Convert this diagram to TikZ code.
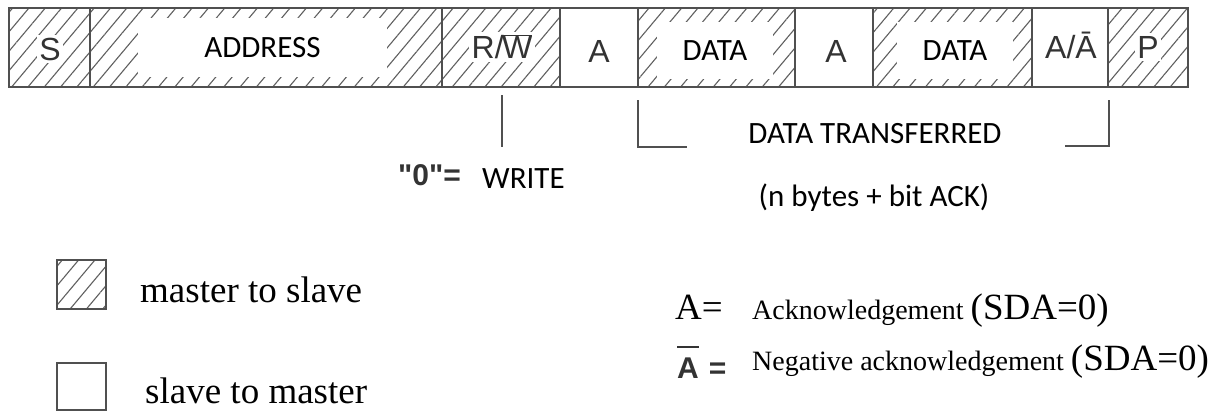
\documentclass[tikz,border=0pt]{standalone}
\usepackage{fontspec}
\setmainfont{Liberation Serif}
\newfontfamily\calibrifont{Carlito}
\newfontfamily\arialfont{Liberation Sans}
\usetikzlibrary{patterns.meta}
\definecolor{ink}{HTML}{333333}
\definecolor{hatchgray}{HTML}{606060}
\definecolor{rulegray}{HTML}{505050}
% A with a heavy bar above it
\newcommand{\barredA}{\leavevmode\vbox{\hrule height 2.6pt\kern 9pt\hbox{A}}}
\begin{document}
\begin{tikzpicture}[x=1pt,y=-1pt,
  cell/.style={draw=rulegray, line width=1.3pt, inner sep=0pt, minimum height=79pt},
  hatched/.style={pattern={Lines[angle=50,distance=12.5pt,line width=1.1pt]},
    pattern color=hatchgray},
  celltext/.style={inner sep=0pt, text=ink, font=\arialfont\fontsize{32}{38}\selectfont},
  clearedtext/.style={celltext, fill=white, inner sep=2.5pt},
  whitebox/.style={fill=white, inner sep=0pt, text=black,
    font=\calibrifont\fontsize{31}{37}\selectfont},
  note/.style={inner sep=0pt, text=black, font=\calibrifont\fontsize{31}{37}\selectfont},
  greytext/.style={inner sep=0pt, text=ink, font=\arialfont\bfseries\fontsize{30}{36}\selectfont},
  serif/.style={inner sep=0pt, text=black, font=\fontsize{37}{44}\selectfont},
  smallserif/.style={inner sep=0pt, text=black, font=\fontsize{28}{34}\selectfont},
  conn/.style={draw=rulegray, line width=1.4pt},
  legendbox/.style={draw=rulegray, line width=1.4pt, inner sep=0pt},
]
\useasboundingbox (0,0) rectangle (1231,412);
\fill[white] (0,0) rectangle (1231,412);

% frame of the transfer
\node[cell, hatched, minimum width=81pt]  (S)     at (49.5,47.5)  {};
\node[cell, hatched, minimum width=352pt] (ADDR)  at (266,47.5)   {};
\node[cell, hatched, minimum width=118pt] (RW)    at (501,47.5)   {};
\node[cell, minimum width=78pt]           (A1)    at (599,47.5)   {};
\node[cell, hatched, minimum width=157pt] (DATA1) at (716.5,47.5) {};
\node[cell, minimum width=78pt]           (A2)    at (834,47.5)   {};
\node[cell, hatched, minimum width=159pt] (DATA2) at (952.5,47.5) {};
\node[cell, minimum width=76pt]           (AN)    at (1070,47.5)  {};
\node[cell, hatched, minimum width=80pt]  (P)     at (1148,47.5)  {};

% cell letters
\node[clearedtext] (stxt)  at (50,49)   {S};
\node[clearedtext] (rwtxt) at (502,47)  {R/\kern-1.5pt$\overline{\hbox{W}}$};
\node[celltext]    (a1txt) at (599,51)  {A};
\node[celltext]    (a2txt) at (836,51)  {A};
\node[celltext]    (antxt) at (1071,45) {A/Ā};
\node[clearedtext] (ptxt)  at (1148,47) {P};

% captions on white patches
\node[whitebox, minimum width=249pt, minimum height=59pt] (addrtxt)  at (262.5,47.5) {ADDRESS};
\node[whitebox, minimum width=116pt, minimum height=57pt] (data1txt) at (715,50.5)   {DATA};
\node[whitebox, minimum width=116pt, minimum height=57pt] (data2txt) at (955,50.5)   {DATA};

% read/write marker
\coordinate (rwtop) at (502,95);
\coordinate (rwbot) at (502,147);
\draw[conn] (rwtop) -- (rwbot);
\node[greytext, anchor=base west] (zero)  at (398,185) {"0"=};
\node[note, anchor=base west]     (write) at (482,188) {WRITE};

% data bracket
\coordinate (brA) at (638,100);
\coordinate (brB) at (638,147);
\coordinate (brC) at (687,147);
\coordinate (brD) at (1065,146);
\coordinate (brE) at (1109,146);
\coordinate (brF) at (1109,100);
\draw[conn] (brA) -- (brB) -- (brC);
\draw[conn] (brD) -- (brE) -- (brF);
\node[note, anchor=base] (xfer)  at (875,143) {DATA TRANSFERRED};
\node[note, anchor=base] (bytes) at (874,206) {(n bytes + bit ACK)};

% legend
\node[legendbox, hatched, minimum width=49pt, minimum height=49pt] (keyms) at (81.5,284.5) {};
\node[legendbox, minimum width=49pt, minimum height=47pt]          (keysm) at (81.5,386.5) {};
\node[serif, anchor=base west] (ms) at (140,302) {master to slave};
\node[serif, anchor=base west] (sm) at (145,403) {slave to master};

\node[serif, anchor=base west] (ackkey) at (675,319) {A=};
\node[smallserif, anchor=base west] (ack) at (752,319)
  {Acknowledgement {\fontsize{37}{44}\selectfont(SDA=0)}};
\node[greytext, anchor=base west] (nackkey) at (677,378) {\barredA\kern 10pt=};
\node[smallserif, anchor=base west] (nack) at (752,370)
  {Negative acknowledgement {\fontsize{37}{44}\selectfont(SDA=0)}};
\end{tikzpicture}
\end{document}
